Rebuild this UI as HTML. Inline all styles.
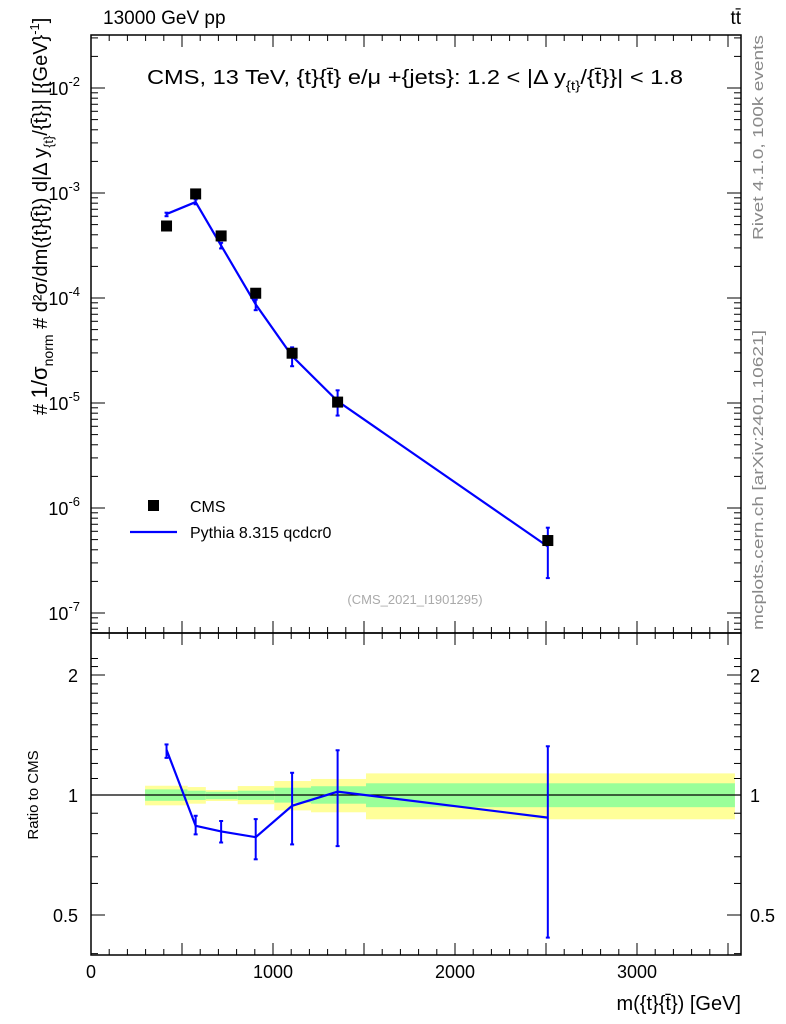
<!DOCTYPE html>
<html><head><meta charset="utf-8">
<style>
html,body{margin:0;padding:0;background:#fff;}
svg{display:block;font-family:"Liberation Sans",sans-serif;}
</style></head>
<body>
<svg id="c" width="786" height="1024" viewBox="0 0 786 1024" xmlns="http://www.w3.org/2000/svg">
<text x="103" y="24" font-size="19">13000 GeV pp</text>
<text x="741" y="24" font-size="19" text-anchor="end">tt̄</text>
<text x="147" y="84" font-size="20" textLength="536" lengthAdjust="spacingAndGlyphs">CMS, 13 TeV, {t}{t̄} e/μ +{jets}: 1.2 &lt; |Δ y<tspan font-size="13" dy="6">{t}</tspan><tspan dy="-6">/{t̄}}| &lt; 1.8</tspan></text>
<text x="415" y="604" font-size="13" fill="#aaa" text-anchor="middle">(CMS_2021_I1901295)</text>
<text transform="translate(763,240) rotate(-90)" font-size="15" fill="#888" textLength="205" lengthAdjust="spacingAndGlyphs">Rivet 4.1.0,  100k events</text>
<text transform="translate(763,630) rotate(-90)" font-size="15" fill="#888" textLength="300" lengthAdjust="spacingAndGlyphs">mcplots.cern.ch [arXiv:2401.10621]</text>
<text transform="translate(47,415) rotate(-90)" font-size="20"># <tspan font-size="22">1/σ<tspan font-size="14" dy="6">norm</tspan></tspan><tspan dy="-6"> # d²σ/dm({t}{t̄}) d|Δ y<tspan font-size="13" dy="6">{t}</tspan><tspan dy="-6">/{t̄}}| [{GeV}</tspan><tspan font-size="13" dy="-8">-1</tspan><tspan dy="8">]</tspan></tspan></text>
<text transform="translate(38,795) rotate(-90)" font-size="15" text-anchor="middle">Ratio to CMS</text>
<text x="741" y="1010" font-size="20" text-anchor="end">m({t}{t̄}) [GeV]</text>
<g id="plot"></g>
</svg>
<script>
const xCenters=[415,575,715,905,1105,1355,2510];
const cmsVals=[4.85e-4,9.8e-4,3.9e-4,1.11e-4,2.98e-5,1.02e-5,4.9e-7];
const mcVals=[6.3e-4,8.2e-4,3.16e-4,8.7e-5,2.8e-5,1.04e-5,4.3e-7];
const mcErrUp=[0.031,0.06,0.062,0.11,0.21,0.27,0.51];
const mcErrDn=[0.046,0.048,0.062,0.12,0.2,0.27,0.5];
const binEdges=[297,531,631,806,1007,1209,1511,3538];
const yellowUp=[1.055,1.047,1.029,1.053,1.084,1.097,1.133];
const yellowDn=[0.942,0.951,0.966,0.948,0.915,0.905,0.869];
const greenUp=[1.033,1.025,1.019,1.025,1.043,1.052,1.07];
const greenDn=[0.967,0.972,0.976,0.972,0.957,0.951,0.932];
const xTicks=[0,1000,2000,3000];
const yDecades=[-7,-6,-5,-4,-3,-2];
const ratioTicks=[0.5,1,2];

const NS="http://www.w3.org/2000/svg";
const g=document.getElementById('plot');
const L=91,R=741,T=35,MB=633,RB=955;
const X=v=>L+v*0.182;
const Y=v=>193-(Math.log10(v)+3)*105;
const RY=r=>795-Math.log2(r)*120;
function mk(t,a,p){const e=document.createElementNS(NS,t);for(const k in a)e.setAttribute(k,a[k]);(p||g).appendChild(e);return e;}

for(let i=0;i<yellowUp.length;i++){
 const b=mk('rect',{x:X(binEdges[i]),y:RY(yellowUp[i]),width:X(binEdges[i+1])-X(binEdges[i]),height:RY(yellowDn[i])-RY(yellowUp[i]),fill:'#ffff99'});
 
 
 const gb=mk('rect',{x:X(binEdges[i]),y:RY(greenUp[i]),width:X(binEdges[i+1])-X(binEdges[i]),height:RY(greenDn[i])-RY(greenUp[i]),fill:'#99ff99'});
 
 
}
const ref=mk('line',{x1:L,x2:R,y1:RY(1),y2:RY(1),stroke:'#000','stroke-width':1.2});



const f1=mk('rect',{x:L,y:T,width:R-L,height:MB-T,fill:'none',stroke:'#000','stroke-width':1.5});


const f2=mk('rect',{x:L,y:MB,width:R-L,height:RB-MB,fill:'none',stroke:'#000','stroke-width':1.5});



for(let v=0;v<=3500;v+=100){
 const len=(v%500===0)?12:6;
 for(const [yb,dir] of [[MB,-1],[T,1],[RB,-1],[MB,1]]) mk('line',{x1:X(v),x2:X(v),y1:yb,y2:yb+dir*len,stroke:'#000'});
}
xTicks.forEach(v=>{const t=mk('text',{x:X(v),y:978,'font-size':18,'text-anchor':'middle'});t.textContent=v;
 
 });

for(let d=-8;d<=-1;d++){for(let m=1;m<10;m++){const v=m*Math.pow(10,d);const y=Y(v);if(y<T||y>MB)continue;
 const len=m===1?14:7;
 mk('line',{x1:L,x2:L+len,y1:y,y2:y,stroke:'#000'});mk('line',{x1:R,x2:R-len,y1:y,y2:y,stroke:'#000'});}}
yDecades.forEach(d=>{const t=mk('text',{x:80,y:Y(Math.pow(10,d))+7,'font-size':18,'text-anchor':'end'});
 t.innerHTML='10<tspan font-size="13" dy="-9">'+d+'</tspan>';
 
 });

for(let r=0.4;r<=2.3;r+=0.1){const y=RY(r);if(y<MB||y>RB)continue;
 const major=[0.5,1,2].some(m=>Math.abs(m-r)<1e-6);const len=major?14:7;
 mk('line',{x1:L,x2:L+len,y1:y,y2:y,stroke:'#000'});mk('line',{x1:R,x2:R-len,y1:y,y2:y,stroke:'#000'});}
ratioTicks.forEach(r=>{for(const [x,a] of [[78,'end'],[750,'start']]){const t=mk('text',{x:x,y:RY(r)+7,'font-size':18,'text-anchor':a});t.textContent=r;
 
 }});

const mcLine=mk('polyline',{points:xCenters.map((x,i)=>X(x)+','+Y(mcVals[i])).join(' '),fill:'none',stroke:'#0000ff','stroke-width':2.2});


xCenters.forEach((x,i)=>{
 const hi=Y(mcVals[i]*(1+mcErrUp[i])),lo=Y(mcVals[i]*(1-mcErrDn[i]));
 const e=mk('line',{x1:X(x),x2:X(x),y1:hi,y2:lo,stroke:'#0000ff','stroke-width':2});
 
 
 mk('line',{x1:X(x)-2,x2:X(x)+2,y1:hi,y2:hi,stroke:'#0000ff','stroke-width':2});
 mk('line',{x1:X(x)-2,x2:X(x)+2,y1:lo,y2:lo,stroke:'#0000ff','stroke-width':2});
});
xCenters.forEach((x,i)=>{const s=mk('rect',{x:X(x)-5.5,y:Y(cmsVals[i])-5.5,width:11,height:11,fill:'#000'});
 
 });

const ratios=xCenters.map((x,i)=>mcVals[i]/cmsVals[i]);
const rl=mk('polyline',{points:xCenters.map((x,i)=>X(x)+','+RY(ratios[i])).join(' '),fill:'none',stroke:'#0000ff','stroke-width':2.2});


xCenters.forEach((x,i)=>{
 const hi=RY(ratios[i]*(1+mcErrUp[i])),lo=RY(ratios[i]*(1-mcErrDn[i]));
 const e=mk('line',{x1:X(x),x2:X(x),y1:hi,y2:lo,stroke:'#0000ff','stroke-width':2});
 
 
 mk('line',{x1:X(x)-2,x2:X(x)+2,y1:hi,y2:hi,stroke:'#0000ff','stroke-width':2});
 mk('line',{x1:X(x)-2,x2:X(x)+2,y1:lo,y2:lo,stroke:'#0000ff','stroke-width':2});
});

const ls=mk('rect',{x:148,y:500,width:11,height:11,fill:'#000'});


const lt=mk('text',{x:190,y:512,'font-size':16});lt.textContent='CMS';


const ll=mk('line',{x1:130,x2:177,y1:532,y2:532,stroke:'#0000ff','stroke-width':2.2});


const lt2=mk('text',{x:190,y:538,'font-size':16});lt2.textContent='Pythia 8.315 qcdcr0';


</script>
</body></html>
